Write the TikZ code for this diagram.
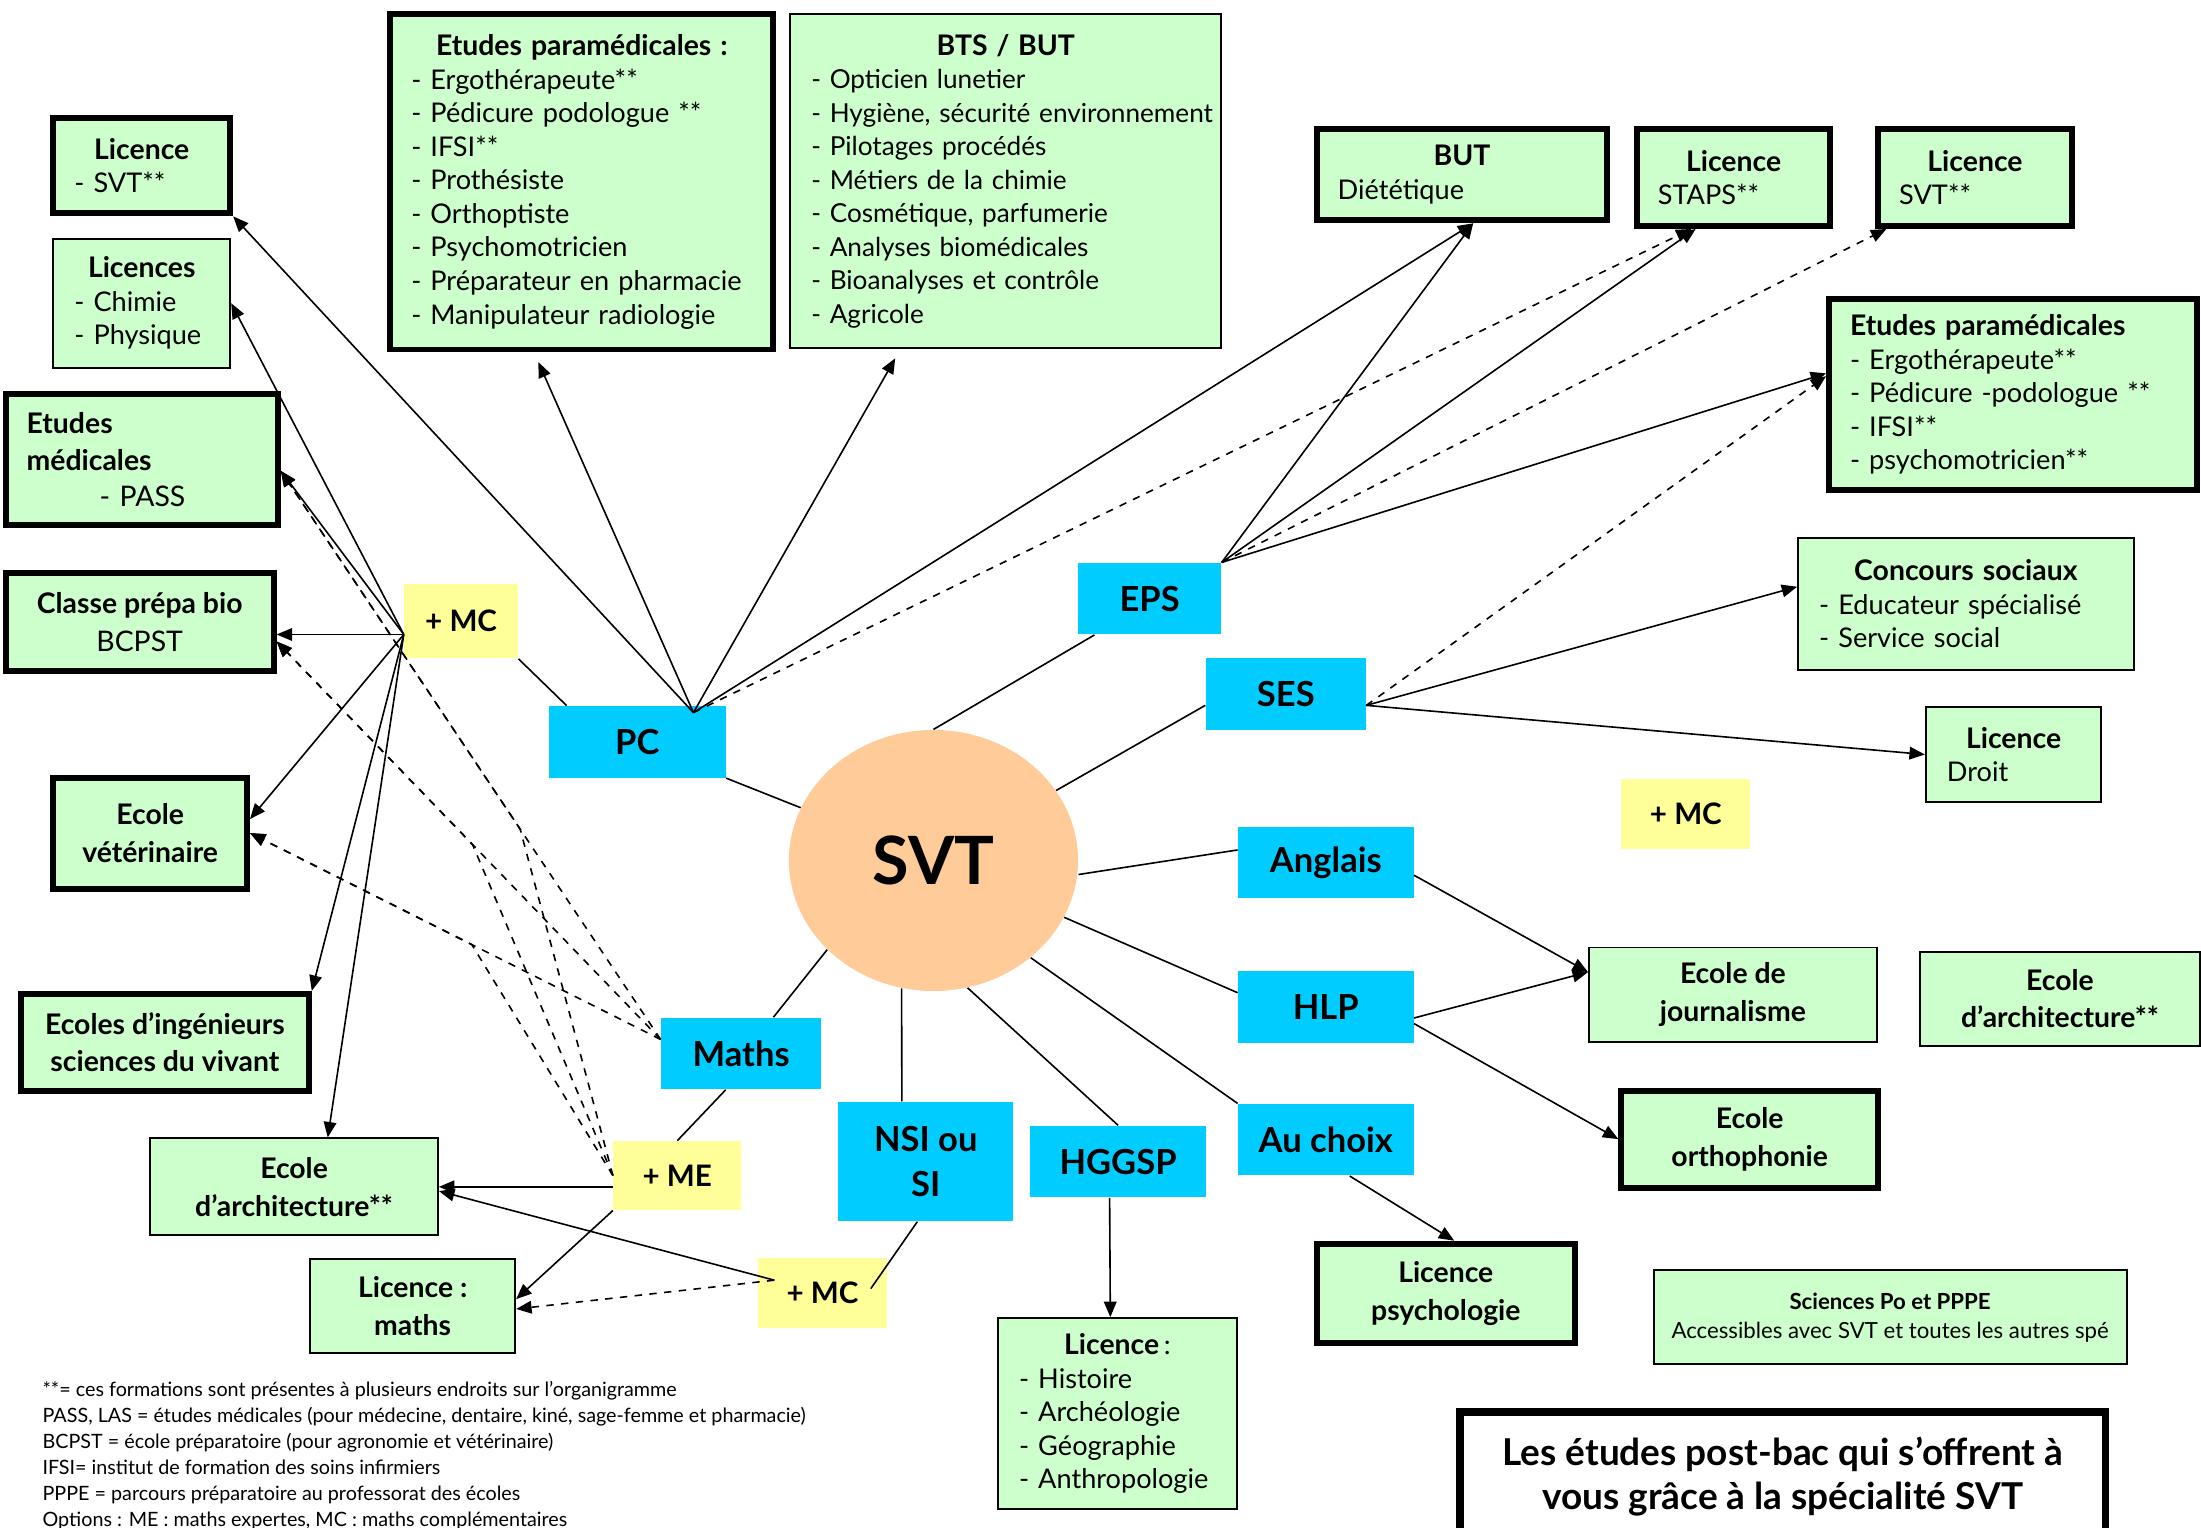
\documentclass[tikz,border=0pt]{standalone}
\usepackage{fontspec}
\setmainfont{Lato}
\usetikzlibrary{shapes.geometric, arrows.meta, positioning, calc}

\definecolor{vert}{HTML}{CCFFCC}
\definecolor{bleu}{HTML}{00CCFF}
\definecolor{jaune}{HTML}{FFFF99}
\definecolor{peche}{HTML}{FFCC99}

\newcommand{\itemfont}{\fontsize{11}{13.6}\selectfont}
\newcommand{\titfont}{\fontsize{11.5}{13.6}\selectfont\bfseries}
\newcommand{\deuxfont}{\fontsize{11.5}{15.2}\selectfont\bfseries}

\tikzstyle{formation} = [rectangle, draw, fill=vert, line width=0.8pt, inner xsep=3mm, inner ysep=0pt, align=left, font=\itemfont]
\tikzstyle{deux} = [rectangle, draw, fill=vert, line width=0.8pt, inner sep=0pt, align=center, font=\deuxfont]
\tikzstyle{epais} = [line width=2.4pt]
\tikzstyle{spe} = [rectangle, fill=bleu, inner sep=0pt, align=center, font=\fontsize{14}{18}\selectfont\bfseries]
\tikzstyle{option} = [rectangle, fill=jaune, inner sep=0pt, font=\fontsize{12}{14}\selectfont\bfseries]
\tikzstyle{trait} = [line width=0.65pt]
\tikzstyle{arrow} = [line width=0.65pt, -{Triangle[length=2.2mm,width=1.8mm]}]

\begin{document}
\begin{tikzpicture}[x=0.2mm, y=-0.2mm]
  \useasboundingbox (0,0) rectangle (1568,1088);

  % centre
  \node (svt) [ellipse, fill=peche, minimum width=41.2mm, minimum height=37.2mm, inner sep=0pt, font=\fontsize{27}{30}\selectfont\bfseries] at (665,613) {SVT};

  % specialites
  \node (pc) [spe, minimum width=25.2mm, minimum height=10.2mm] at (454,528.5) {PC};
  \node (eps) [spe, minimum width=20.4mm, minimum height=10.2mm] at (819,426.5) {EPS};
  \node (ses) [spe, minimum width=22.8mm, minimum height=10.2mm] at (916,494.5) {SES};
  \node (anglais) [spe, minimum width=25mm, minimum height=10.2mm] at (944.5,614.5) {Anglais};
  \node (hlp) [spe, minimum width=25mm, minimum height=10.2mm, below=10.2mm of anglais] {HLP};
  \node (auchoix) [spe, minimum width=25mm, minimum height=10.2mm, below=8.6mm of hlp] {Au choix};
  \node (hggsp) [spe, minimum width=25mm, minimum height=10.2mm] at (796.5,827.5) {HGGSP};
  \node (nsi) [spe, minimum width=25mm, minimum height=17mm] at (659.5,827.5) {NSI ou\\SI};
  \node (maths) [spe, minimum width=22.8mm, minimum height=10.2mm] at (528,750.5) {Maths};

  % options
  \node (mcG) [option, minimum width=16.2mm, minimum height=10.6mm] at (328.5,442.5) {+ MC};
  \node (me) [option, minimum width=18.2mm, minimum height=9.8mm] at (482.5,837.5) {+ ME};
  \node (mcB) [option, minimum width=18.4mm, minimum height=10mm] at (586,921) {+ MC};
  \node (mcD) [option, minimum width=18.4mm, minimum height=10mm] at (1201,580) {+ MC};

  % formations a gauche
  \node (licsvt) [formation, epais, text width=19.2mm, minimum height=13.6mm] at (101,118)
    {{\centering\titfont Licence\par}- SVT**};
  \node (licchim) [formation, text width=19.2mm, minimum height=18.4mm] at (101,216)
    {{\centering\titfont Licences\par}- Chimie\\- Physique};
  \node (etmed) [formation, epais, text width=32.8mm, minimum height=18.6mm, font=\fontsize{11.5}{14.7}\selectfont] at (101,327.5)
    {\bfseries Etudes\\médicales\\\mdseries\hspace*{10.4mm}- PASS};
  \node (prepa) [deux, epais, minimum width=38.2mm, minimum height=14mm] at (99.5,443)
    {Classe prépa bio\\{\mdseries BCPST}};
  \node (veto) [deux, epais, minimum width=27.6mm, minimum height=15.8mm] at (107,593.5)
    {Ecole\\vétérinaire};
  \node (ingen) [deux, epais, minimum width=41mm, minimum height=13.8mm] at (117.5,742.5)
    {Ecoles d’ingénieurs\\sciences du vivant};
  \node (archiL) [deux, minimum width=41mm, minimum height=13.8mm] at (209.5,845.5)
    {Ecole\\d’architecture**};
  \node (licmath) [deux, minimum width=29.2mm, minimum height=13.4mm] at (294,930.5)
    {Licence :\\maths};

  % formations en haut
  \node (paramedT) [formation, epais, text width=48.6mm, minimum height=47.8mm] at (414.5,129.5)
    {{\centering\titfont Etudes paramédicales :\par}- Ergothérapeute**\\- Pédicure podologue **\\- IFSI**\\- Prothésiste\\- Orthoptiste\\- Psychomotricien\\- Préparateur en pharmacie\\- Manipulateur radiologie};
  \node (btsbut) [formation, text width=55.4mm, minimum height=47.6mm, font=\fontsize{10.6}{13.6}\selectfont] at (716.5,129)
    {{\centering\titfont BTS / BUT\par}- Opticien lunetier\\\mbox{- Hygiène, sécurité environnement}\\- Pilotages procédés\\- Métiers de la chimie\\- Cosmétique, parfumerie\\- Analyses biomédicales\\- Bioanalyses et contrôle\\- Agricole};
  \node (butdiet) [formation, epais, text width=35.4mm, minimum height=13mm] at (1041.5,124.5)
    {{\centering\titfont BUT\par}Diététique};
  \node (licstaps) [formation, epais, text width=21.6mm, minimum height=13.8mm] at (1235,126.5)
    {{\centering\titfont Licence\par}STAPS**};
  \node (licsvtR) [formation, epais, text width=21.6mm, minimum height=13.8mm] at (1407,126.5)
    {{\centering\titfont Licence\par}SVT**};

  % formations a droite
  \node (paramedR) [formation, epais, text width=46.4mm, minimum height=27.2mm] at (1434,281)
    {{\titfont Etudes paramédicales\par}- Ergothérapeute**\\- Pédicure -podologue **\\- IFSI**\\- psychomotricien**};
  \node (concours) [formation, text width=41.8mm, minimum height=18.8mm] at (1400.5,430)
    {{\centering\titfont Concours sociaux\par}- Educateur spécialisé\\- Service social};
  \node (licdroit) [formation, text width=19mm, minimum height=13.4mm] at (1434.5,537.5)
    {{\centering\titfont Licence\par}Droit};
  \node (journ) [deux, minimum width=41mm, minimum height=13.4mm] at (1234.5,708.5)
    {Ecole de\\journalisme};
  \node (archiR) [deux, minimum width=39.8mm, minimum height=13.4mm] at (1467.5,711.5)
    {Ecole\\d’architecture**};
  \node (ortho) [deux, epais, minimum width=36.6mm, minimum height=13.8mm] at (1246.5,811.5)
    {Ecole\\orthophonie};
  \node (licpsy) [deux, epais, minimum width=36.8mm, minimum height=14.2mm] at (1030,921.5)
    {Licence\\psychologie};
  \node (scpo) [deux, minimum width=67.4mm, minimum height=13.4mm, font=\fontsize{9}{11.9}\selectfont] at (1346.5,938.5)
    {{\bfseries Sciences Po et PPPE}\\Accessibles avec SVT et toutes les autres spé};
  \node (lichist) [formation, text width=28mm, minimum height=27.2mm] at (796,1007)
    {{\centering{\titfont Licence}\,:\par}- Histoire\\- Archéologie\\- Géographie\\- Anthropologie};

  % titre et notes
  \node (titre) [rectangle, draw, line width=3pt, fill=white, minimum width=92mm, minimum height=18.4mm, align=center, font=\fontsize{15}{18}\selectfont\bfseries] at (1270,1052)
    {Les études post-bac qui s’offrent à\\vous grâce à la spécialité SVT};
  \node (notes) [anchor=north west, align=left, inner sep=0pt, font=\fontsize{8}{10.5}\selectfont] at (30,984)
    {**= ces formations sont présentes à plusieurs endroits sur l’organigramme\\
     PASS, LAS = études médicales (pour médecine, dentaire, kiné, sage-femme et pharmacie)\\
     BCPST = école préparatoire (pour agronomie et vétérinaire)\\
     IFSI= institut de formation des soins infirmiers\\
     PPPE = parcours préparatoire au professorat des écoles\\
     Options : ME : maths expertes, MC : maths complémentaires};

  % points de depart
  \coordinate (pcHub) at ($(pc.north)+(40,5)$);
  \coordinate (mcHub) at ($(mcG.west)+(0,9.5)$);
  \coordinate (sesHub) at ($(ses.east)+(0,8)$);
  \coordinate (mathsHub) at ($(maths.west)+(0,-10)$);
  \coordinate (mcBHub) at ($(mcB.west)+(12,-9)$);
  \coordinate (nsiTop) at ($(nsi.north)+(-17,0)$);

  % SVT vers les specialites
  \draw[trait] (svt) -- (pc.south east);
  \draw[trait] (svt.north) -- ($(eps.south west)+(12,0)$);
  \draw[trait] (svt) -- ($(ses.west)+(0,8)$);
  \draw[trait] ($(svt.east)+(0,10)$) -- ($(anglais.west)+(0,-9)$);
  \draw[trait] (svt) -- ($(hlp.west)+(0,-10)$);
  \draw[trait] (svt.-45) -- (auchoix.north west);
  \draw[trait] (svt.-75) -- (hggsp.north);
  \draw[trait] (svt.-104) -- (nsiTop);
  \draw[trait] (svt.-140) -- ($(maths.north)+(23,0)$);

  % vers les options
  \draw[trait] ($(pc.north west)+(13,0)$) -- (mcG.south east);
  \draw[trait] ($(maths.south)+(-11,0)$) -- (me.north);
  \draw[trait] ($(nsi.south)+(-6,0)$) -- ($(mcB.east)+(-12,-3)$);

  % PC
  \draw[arrow] (pcHub) -- (licsvt.south east);
  \draw[arrow, shorten >=1.5mm] (pcHub) -- ($(paramedT.south)+(-34,0)$);
  \draw[arrow, shorten >=1.5mm] (pcHub) -- ($(btsbut.south)+(-75,0)$);
  \draw[arrow] (pcHub) -- ($(butdiet.south)+(8,0)$);
  \draw[arrow, dashed] (pcHub) -- ($(licstaps.south)+(-30,0)$);

  % EPS
  \draw[arrow] (eps.north east) -- ($(butdiet.south)+(8,0)$);
  \draw[arrow] (eps.north east) -- ($(licstaps.south)+(-27,0)$);
  \draw[arrow, dashed] (eps.north east) -- ($(licsvtR.south west)+(8,0)$);
  \draw[arrow] (eps.north east) -- ($(paramedR.west)+(0,-15)$);

  % SES
  \draw[arrow, dashed] (sesHub) -- ($(paramedR.west)+(0,-13)$);
  \draw[arrow] (sesHub) -- ($(concours.west)+(0,-12)$);
  \draw[arrow] (sesHub) -- (licdroit.west);

  % + MC (PC)
  \draw[arrow] (mcHub) -- (licchim.east);
  \draw[arrow] (mcHub) -- ($(etmed.east)+(0,8)$);
  \draw[arrow] (mcHub) -- (mcHub -| prepa.east);
  \draw[arrow] (mcHub) -- ($(veto.east)+(0,-10)$);
  \draw[arrow] (mcHub) -- (ingen.north east);
  \draw[arrow] (mcHub) -- ($(archiL.north)+(24,0)$);

  % Maths et + ME
  \draw[arrow, dashed] (mathsHub) -- ($(etmed.east)+(0,8)$);
  \draw[arrow, dashed] (mathsHub) -- ($(prepa.east)+(0,14)$);
  \draw[arrow, dashed] (mathsHub) -- (veto.east);
  \draw[arrow, dashed] (me.west) -- ($($(etmed.east)+(0,8)$)!0.63!(mathsHub)$) -- ($(etmed.east)+(0,8)$);
  \draw[arrow, dashed] (me.west) -- ($($(prepa.east)+(0,14)$)!0.51!(mathsHub)$) -- ($(prepa.east)+(0,14)$);
  \draw[arrow, dashed] (me.west) -- ($(veto.east)!0.54!(mathsHub)$) -- (veto.east);
  \draw[arrow] (me.west |- archiL.east) -- (archiL.east);
  \draw[arrow] (me.south west) -- ($(licmath.east)+(0,-5)$);

  % + MC (NSI)
  \draw[arrow] (mcBHub) -- ($(archiL.east)+(0,3)$);
  \draw[arrow, dashed] (mcBHub) -- ($(licmath.east)+(0,2)$);

  % langues, HLP, au choix, HGGSP
  \draw[arrow] ($(anglais.east)+(0,9)$) -- ($(journ.west)+(0,-16)$);
  \draw[arrow] ($(hlp.east)+(0,8)$) -- ($(journ.west)+(0,-16)$);
  \draw[arrow] ($(hlp.east)+(0,12)$) -- (ortho.west);
  \draw[arrow] ($(auchoix.south)+(17,0)$) -- ($(licpsy.north)+(6,0)$);
  \draw[arrow] ($(hggsp.south)+(-6,0)$) -- ($(lichist.north)+(-5,0)$);

\end{tikzpicture}
\end{document}
